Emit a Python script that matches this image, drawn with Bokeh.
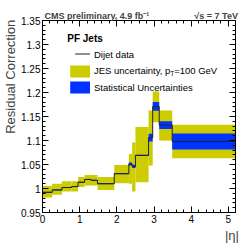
import math
from bokeh.plotting import figure
from bokeh.models import (Range1d, LinearAxis, SingleIntervalTicker, CustomJSTickFormatter,
                          Label, BoxAnnotation, ColumnDataSource)
from bokeh.embed import file_html
from bokeh.resources import INLINE

# ---- data ----
eta_edges = [0.0, 0.261, 0.522, 0.783, 0.957, 1.131, 1.305, 1.479, 1.93,
             2.322, 2.411, 2.5, 2.853, 2.964, 3.139, 3.489, 5.191]
residual = [0.992, 0.997, 1.002, 1.004, 1.013, 1.019, 1.017, 1.010,
            1.031, 1.051, 1.046, 1.069, 1.106, 1.171, 1.132, 1.098]
stat_unc = [0.001, 0.001, 0.001, 0.001, 0.001, 0.001, 0.001, 0.001,
            0.0012, 0.003, 0.0035, 0.0015, 0.008, 0.009, 0.008, 0.0165]
jes_low = [0.981, 0.987, 0.994, 0.994, 1.003, 1.006, 1.006, 0.997,
           1.011, 1.010, 0.994, 1.013, 1.048, 1.138, 1.100, 1.063]
jes_high = [1.005, 1.010, 1.015, 1.015, 1.024, 1.028, 1.028, 1.024,
            1.049, 1.072, 1.096, 1.128, 1.1625, 1.202, 1.1625, 1.133]

FONT = "Liberation Sans"
YELLOW = "#cccc00"
BLUE = "#0033ff"
LINE = "#222222"

X0, X1 = 0.0, 5.191
Y0, Y1 = 0.95, 1.35

NB = "\u00a0"
title_text = "CMS preliminary, 4.9 fb\u207b\u00b9" + NB * 18 + "\u221as = 7 TeV"

p = figure(width=250, height=248, x_range=Range1d(X0, X1), y_range=Range1d(Y0, Y1),
           output_backend="svg", toolbar_location=None,
           x_axis_type=None, y_axis_type=None, title=title_text,
           min_border_left=40, min_border_right=15, min_border_top=20, min_border_bottom=36)
p.outline_line_color = "black"
p.background_fill_color = "white"
p.border_fill_color = "white"
p.xgrid.visible = False
p.ygrid.visible = False
p.title.text_font = FONT
p.title.text_font_size = "9px"
p.title.text_font_style = "bold"
p.title.align = "left"
p.title.offset = 2
p.title.standoff = 0

yfmt = CustomJSTickFormatter(code="return (Math.round(tick*100)/100).toString();")
blankfmt = CustomJSTickFormatter(code="return '';")

def style_axis(ax, labels=True):
    ax.axis_line_color = "black"
    ax.major_tick_in = 6
    ax.major_tick_out = 0
    ax.minor_tick_in = 3
    ax.minor_tick_out = 0
    ax.major_tick_line_color = "black"
    ax.minor_tick_line_color = "black"
    ax.major_label_text_font = FONT
    if labels:
        ax.major_label_text_font_size = "10px"
        ax.major_label_standoff = 2
    else:
        ax.major_label_text_font_size = "0px"
        ax.major_label_standoff = 0
    ax.major_label_text_color = "black"
    ax.axis_label_text_font = FONT
    ax.axis_label_text_font_size = "13px"
    ax.axis_label_text_font_style = "normal"
    ax.axis_label_standoff = 0

xb = LinearAxis(ticker=SingleIntervalTicker(interval=1, num_minor_ticks=5),
                axis_label="|\u03b7|" + NB * 2)
xt = LinearAxis(ticker=SingleIntervalTicker(interval=1, num_minor_ticks=5), formatter=blankfmt)
yl = LinearAxis(ticker=SingleIntervalTicker(interval=0.05, num_minor_ticks=5), formatter=yfmt,
                axis_label=NB * 22 + "Residual Correction")
yr = LinearAxis(ticker=SingleIntervalTicker(interval=0.05, num_minor_ticks=5), formatter=blankfmt)
style_axis(xb)
style_axis(yl)
style_axis(xt, labels=False)
style_axis(yr, labels=False)
xb.axis_label_standoff = 2
try:
    xb.axis_label_align = "end"
except Exception:
    pass
p.add_layout(xb, "below")
p.add_layout(yl, "left")
p.add_layout(xt, "above")
p.add_layout(yr, "right")

src = ColumnDataSource(dict(
    left=eta_edges[:-1], right=eta_edges[1:], val=residual,
    jlo=jes_low, jhi=jes_high,
    slo=[v - s for v, s in zip(residual, stat_unc)],
    shi=[v + s for v, s in zip(residual, stat_unc)],
))
p.quad(left="left", right="right", bottom="jlo", top="jhi", source=src,
       fill_color=YELLOW, line_color=None)
p.quad(left="left", right="right", bottom="slo", top="shi", source=src,
       fill_color=BLUE, line_color=None)
p.step(x=eta_edges, y=residual + [residual[-1]], mode="after", line_color=LINE, line_width=1)

# helpers: page pixel -> data coords (for text placement only)
def dx(px):
    return X0 + (px - 40) * (X1 - X0) / 195.0
def dy(py):
    return Y0 + (212 - py) * (Y1 - Y0) / 192.0

def lab(x, y, text, size, style="normal", align="left", base="middle", angle=0):
    p.add_layout(Label(x=dx(x), y=dy(y), text=text, text_font=FONT, text_font_size=size,
                       text_font_style=style, text_align=align, text_baseline=base,
                       angle=angle, text_color="black"))

# legend
lab(65, 38, "PF Jets", "10px", "bold")
p.add_layout(BoxAnnotation(left=dx(73), right=dx(88), top=dy(53), bottom=dy(54),
                           fill_color=LINE, fill_alpha=1, line_color=None))
lab(92, 54, "Dijet data", "9.5px")
p.add_layout(BoxAnnotation(left=dx(68), right=dx(88), top=dy(65), bottom=dy(77),
                           fill_color=YELLOW, fill_alpha=1, line_color=None))
lab(92, 70, "JES uncertainty, p", "9.5px")
lab(169, 73, "T", "6.5px")
lab(173, 70, "=100 GeV", "9.5px")
p.add_layout(BoxAnnotation(left=dx(68), right=dx(88), top=dy(81), bottom=dy(93),
                           fill_color=BLUE, fill_alpha=1, line_color=None))
lab(92, 87, "Statistical Uncertainties", "9.5px")

open("out.html", "w").write(file_html(p, INLINE))
